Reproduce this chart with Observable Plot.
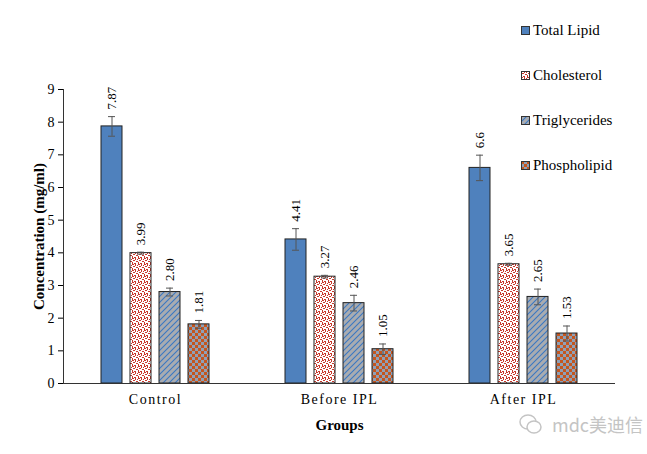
<!DOCTYPE html>
<html><head><meta charset="utf-8">
<script src="https://cdn.jsdelivr.net/npm/d3@7"></script>
<script src="https://cdn.jsdelivr.net/npm/@observablehq/plot@0.6"></script>
<style>
body{margin:0;background:#fff;}
#wrap{position:relative;width:647px;height:454px;font-family:"Liberation Serif","Times New Roman",serif;color:#000;}
#legend{position:absolute;left:521px;top:0;}
.item{position:absolute;left:0;white-space:nowrap;font-size:15px;display:flex;align-items:center;height:16px;}
.item svg{margin-right:3px;}
#wm{position:absolute;left:518px;top:411px;font-family:"Noto Sans CJK SC",sans-serif;font-size:18px;color:#c4c4c4;display:flex;align-items:center;}
</style></head>
<body>
<svg width="0" height="0" style="position:absolute">
 <defs>
  <pattern id="pChol" width="6" height="6" patternUnits="userSpaceOnUse">
   <rect width="6" height="6" fill="#fff"/>
   <rect x="0" y="0" width="2" height="1" fill="#c8382c"/>
   <rect x="3" y="0" width="1" height="2" fill="#c8382c"/>
   <rect x="1" y="2" width="2" height="1" fill="#c8382c"/>
   <rect x="4" y="3" width="2" height="1" fill="#c8382c"/>
   <rect x="0" y="4" width="1" height="2" fill="#c8382c"/>
   <rect x="2" y="5" width="2" height="1" fill="#c8382c"/>
   <rect x="5" y="1" width="1" height="1" fill="#c8382c"/>
  </pattern>
  <pattern id="pTrig" width="6" height="6" patternUnits="userSpaceOnUse">
   <rect width="6" height="6" fill="#a9acb1"/>
   <path d="M-1,7 L7,-1 M-1,1 L1,-1 M5,7 L7,5" stroke="#3a78c2" stroke-width="1.1"/>
  </pattern>
  <pattern id="pPhos" width="6" height="6" patternUnits="userSpaceOnUse">
   <rect width="6" height="6" fill="#8fa0b6"/>
   <rect x="0" y="0" width="3" height="3" fill="#c4561f"/>
   <rect x="3" y="3" width="3" height="3" fill="#c4561f"/>
  </pattern>
 </defs>
</svg>
<div id="wrap"></div>
<script>
const groups = ["Control", "Before IPL", "After IPL"];
const series = ["Total Lipid", "Cholesterol", "Triglycerides", "Phospholipid"];
const totalLipid    = [7.87, 4.41, 6.6];
const cholesterol   = [3.99, 3.27, 3.65];
const triglycerides = [2.80, 2.46, 2.65];
const phospholipid  = [1.81, 1.05, 1.53];
const errTotalLipid    = [0.30, 0.33, 0.39];
const errCholesterol   = [0.03, 0.04, 0.03];
const errTriglycerides = [0.12, 0.24, 0.24];
const errPhospholipid  = [0.12, 0.16, 0.23];
const labelTotalLipid    = ["7.87", "4.41", "6.6"];
const labelCholesterol   = ["3.99", "3.27", "3.65"];
const labelTriglycerides = ["2.80", "2.46", "2.65"];
const labelPhospholipid  = ["1.81", "1.05", "1.53"];
const yTicks = [0, 1, 2, 3, 4, 5, 6, 7, 8, 9];
const fills = ["#4f81bd", "url(#pChol)", "url(#pTrig)", "url(#pPhos)"];

const values = [totalLipid, cholesterol, triglycerides, phospholipid];
const errs = [errTotalLipid, errCholesterol, errTriglycerides, errPhospholipid];
const labels = [labelTotalLipid, labelCholesterol, labelTriglycerides, labelPhospholipid];
const rows = [];
groups.forEach((g, i) => series.forEach((s, j) => rows.push({
  group: g, series: s, value: values[j][i], err: errs[j][i], label: labels[j][i]
})));

const chart = Plot.plot({
  width: 647, height: 454,
  marginLeft: 63, marginRight: 32, marginTop: 89, marginBottom: 71,
  style: {fontFamily: "'Liberation Serif', 'Times New Roman', serif", fontSize: "14px", color: "#000", background: "transparent", overflow: "visible"},
  fx: {domain: groups, padding: 0},
  x: {domain: series, paddingInner: 0.27, paddingOuter: 1.28, axis: null},
  y: {domain: [0, 9]},
  color: {domain: series, range: fills},
  marks: [
    Plot.barY(rows, {fx: "group", x: "series", y: "value", fill: "series", stroke: "#222", strokeWidth: 1}),
    Plot.ruleX(rows, {fx: "group", x: "series", y1: d => d.value - d.err, y2: d => d.value + d.err, stroke: "#555"}),
    Plot.tickY(rows, {fx: "group", x: "series", y: d => d.value + d.err, insetLeft: 7, insetRight: 7, stroke: "#555"}),
    Plot.tickY(rows, {fx: "group", x: "series", y: d => d.value - d.err, insetLeft: 7, insetRight: 7, stroke: "#555"}),
    Plot.text(rows, {fx: "group", x: "series", y: d => d.value + d.err, text: "label", rotate: -90, textAnchor: "start", lineAnchor: "middle", dy: -7, fontSize: 13}),
    Plot.ruleY([0], {stroke: "#333"}),
    Plot.frame({anchor: "left", facetAnchor: "left", stroke: "#333"}),
    Plot.axisY({ticks: yTicks, tickSize: 5, tickPadding: 4, tickFormat: d3.format("d"), label: "Concentration (mg/ml)", labelAnchor: "center", labelOffset: 30, labelArrow: "none", fontSize: 14}),
    Plot.axisFx({anchor: "bottom", tickSize: 0, tickPadding: 11, label: "Groups", labelAnchor: "center", labelOffset: 46, labelArrow: "none", fontSize: 14})
  ]
});
chart.querySelectorAll('[aria-label="y-axis label"] text, [aria-label="fx-axis label"] text').forEach(t => {
  t.setAttribute("font-weight", "bold"); t.setAttribute("font-size", "15");
});
chart.querySelectorAll('[aria-label="fx-axis tick label"] text').forEach(t => t.setAttribute("letter-spacing", "1.5"));
const wrap = document.getElementById("wrap");
wrap.appendChild(chart);

const legend = document.createElement("div");
legend.id = "legend";
const tops = [22, 67, 112, 157];
series.forEach((s, j) => {
  const it = document.createElement("div");
  it.className = "item";
  it.style.top = tops[j] + "px";
  it.innerHTML = `<svg width="9" height="9"><rect x="0.5" y="0.5" width="8" height="8" fill="${fills[j]}" stroke="#333"/></svg>`;
  it.appendChild(document.createTextNode(s));
  legend.appendChild(it);
});
wrap.appendChild(legend);

const wm = document.createElement("div");
wm.id = "wm";
wm.innerHTML = `<svg width="26" height="22" style="margin-right:8px"><ellipse cx="10" cy="9" rx="8" ry="7" fill="none" stroke="#c4c4c4" stroke-width="1.5"/><ellipse cx="16" cy="14" rx="7" ry="6" fill="#fff" stroke="#c4c4c4" stroke-width="1.5"/></svg>`;
wm.appendChild(document.createTextNode("mdc美迪信"));
wrap.appendChild(wm);
</script>
</body></html>
